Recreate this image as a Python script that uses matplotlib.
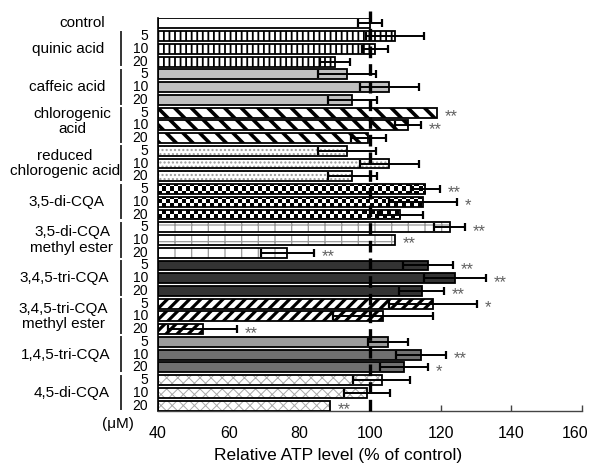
import numpy as np
import matplotlib
matplotlib.use("Agg")
import matplotlib.pyplot as plt
import matplotlib.transforms as mtransforms

plt.rcParams['font.family'] = ['Liberation Sans', 'DejaVu Sans']

# ---------------- data ----------------
groups = ["control", "quinic acid", "caffeic acid", "chlorogenic\nacid",
          "reduced\nchlorogenic acid", "3,5-di-CQA", "3,5-di-CQA\nmethyl ester",
          "3,4,5-tri-CQA", "3,4,5-tri-CQA\nmethyl ester", "1,4,5-tri-CQA",
          "4,5-di-CQA"]
concs = ["5", "10", "20"]
values = [100.0,
          107.0, 101.5, 90.1,
          93.6, 105.5, 95.0,
          119.0, 110.8, 99.5,
          93.6, 105.5, 95.0,
          115.7, 114.9, 108.6,
          122.5, 107.0, 76.6,
          116.4, 124.0, 114.6,
          117.9, 103.7, 52.6,
          105.1, 114.5, 109.6,
          103.3, 99.1, 88.6]
errors = [3.5,
          8.2, 3.7, 4.2,
          8.2, 8.3, 7.0,
          0.0, 3.6, 5.0,
          8.2, 8.3, 7.0,
          4.0, 9.6, 6.3,
          4.3, 0.0, 7.5,
          7.0, 8.8, 6.3,
          12.4, 14.2, 9.8,
          5.6, 7.1, 6.8,
          8.0, 6.6, 0.0]
signif = ["",
          "", "", "",
          "", "", "",
          "**", "**", "",
          "", "", "",
          "**", "*", "",
          "**", "**", "**",
          "**", "**", "**",
          "*", "", "**",
          "", "**", "*",
          "", "", "**"]
xticks = [40, 60, 80, 100, 120, 140, 160]

# ---------------- styles ----------------
# per-group (face, hatch, hatch colour, hatch lw)
styles = [
    ("white", None, "black", 1.0),
    ("white", "|||", "black", 1.3),
    ("#c0c0c0", None, "black", 1.0),
    ("white", "\\\\", "black", 2.6),
    ("white", "....", "#9a9a9a", 1.0),
    ("checker", None, "black", 1.0),
    ("white", "+", "#9a9a9a", 0.9),
    ("#333333", None, "black", 1.0),
    ("white", "///", "black", 2.3),
    ("#707070", None, "black", 1.0),
    ("white", "xxx", "#a8a8a8", 0.7),
]
label_cx = [82, 68, 67, 72, 65, 66, 72, 64, 63, 66, 72]  # px centres

W, H = 590, 467
fig = plt.figure(figsize=(W / 100, H / 100), dpi=100)
ax = fig.add_axes([158 / W, 1 - 411 / H, 424 / W, 393 / H])

n = len(values)
ypos = np.arange(n)
bh = 0.78
ax.set_xlim(40, 160)
ax.set_ylim(n - 1 + 0.42, -0.42)

# group index per row
gidx = [0] + [1 + i // 3 for i in range(n - 1)]

# checkerboard image for 3,5-di-CQA
cb = np.indices((102, 106)).sum(axis=0) % 2

for i in range(n):
    g = gidx[i]
    face, hatch, hc, hlw = styles[g]
    if g == 9 and i == 25:
        face = "#9c9c9c"
    left = 40
    if face == "checker":
        b = ax.barh(ypos[i], values[i] - left, left=left, height=bh,
                    color="white", edgecolor="none", zorder=2)[0]
        im = ax.imshow(cb, cmap="gray_r", interpolation="nearest",
                       extent=(40, 160, n, -1), aspect="auto", zorder=2.1)
        im.set_clip_path(b)
    else:
        b = ax.barh(ypos[i], values[i] - left, left=left, height=bh,
                    color=face, edgecolor=hc if hatch else "none",
                    hatch=hatch, linewidth=0, zorder=2)[0]
        if hatch:
            try:
                b.set_hatch_linewidth(hlw)
            except Exception:
                pass
    ax.barh(ypos[i], values[i] - left, left=left, height=bh, fill=False,
            edgecolor="black", linewidth=1.3, zorder=3)

# error bars
for i in range(n):
    if errors[i] > 0:
        ax.errorbar(values[i], ypos[i], xerr=errors[i], fmt="none",
                    ecolor="black", elinewidth=1.4, capsize=2.6,
                    capthick=1.6, zorder=4)

# significance stars
for i in range(n):
    if signif[i]:
        ax.text(values[i] + errors[i] + 2.2, ypos[i] + 0.32, signif[i],
                ha="left", va="center", fontsize=12, color="#606060",
                zorder=5)

# dashed control line
ax.axvline(100, ymin=0, ymax=1.018, color="black", lw=2.4,
           linestyle=(0, (3.5, 1.8)), zorder=6, clip_on=False)

# axes styling
for s in ["top", "right"]:
    ax.spines[s].set_visible(False)
ax.spines["left"].set_linewidth(1.2)
ax.spines["bottom"].set_linewidth(1.0)
ax.spines["bottom"].set_color("#444444")
ax.set_yticks([])
ax.set_xticks(xticks)
ax.set_xticklabels([str(t) for t in xticks])
ax.tick_params(axis="x", direction="in", length=4, width=1, pad=11,
               labelsize=11.5, color="#444444")
# last tick label sits slightly left so it stays inside the figure
last = ax.get_xticklabels()[-1]
last.set_transform(last.get_transform() +
                   mtransforms.ScaledTranslation(-7 / 100, 0, fig.dpi_scale_trans))
ax.set_xlabel("Relative ATP level (% of control)", fontsize=12.5)
ax.xaxis.set_label_coords((338 - 158) / 424, -0.112)
ax.xaxis.label.set_va("center")

# left side labels
tr = mtransforms.blended_transform_factory(fig.transFigure, ax.transData)
for g, name in enumerate(groups):
    if g == 0:
        rows = [0]
    else:
        rows = [1 + (g - 1) * 3 + k for k in range(3)]
    yc = np.mean(rows)
    if g == 3:
        yc -= 0.3
    fig.text(label_cx[g] / W, yc, name, transform=tr, ha="center",
             va="center", fontsize=11, linespacing=1.15)
    if g > 0:
        for k, r in enumerate(rows):
            fig.text(148 / W, r, concs[k], transform=tr, ha="right",
                     va="center", fontsize=10, linespacing=1.0)
        ax.plot([121 / W, 121 / W], [rows[0] - 0.35, rows[-1] + 0.3],
                transform=tr, color="#333333", lw=1.4, clip_on=False)

fig.text(118 / W, 1 - 424 / H, "(μM)", ha="center", va="center", fontsize=11)

fig.savefig("out.png", dpi=100)
